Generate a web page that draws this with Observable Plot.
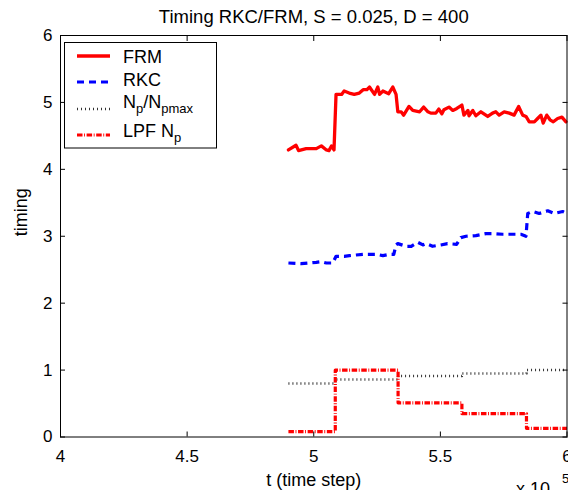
<!DOCTYPE html>
<html><head><meta charset="utf-8">
<script src="https://cdn.jsdelivr.net/npm/d3@7"></script>
<script src="https://cdn.jsdelivr.net/npm/@observablehq/plot@0.6"></script>
<style>
body{margin:0;background:#fff}
#chart{position:relative;width:568px;height:490px;overflow:hidden;background:#fff}
#chart svg{display:block}
</style>
</head><body><div id="chart"></div>
<script>
// ---- data ----
const titleText = "Timing RKC/FRM, S = 0.025, D = 400";
const xLabel = "t (time step)";
const yLabel = "timing";
const xTicks = [400000, 450000, 500000, 550000, 600000];
const yTicks = [0, 1, 2, 3, 4, 5, 6];

const frmT = [490000,493000,494000,497000,501000,503000,505000,506000,507000,508000,508800,511000,512000,514000,516000,518000,519500,521000,522000,524000,525300,526000,527300,529600,531200,532500,533200,534500,535500,537600,539100,541800,543400,545100,546200,548200,549400,550600,551400,553400,554900,556500,558500,559300,560900,561300,562800,564000,566000,568700,570600,571900,573200,575200,577200,579100,580900,582500,583800,585100,587100,588400,589700,590600,592000,593300,594600,596300,598000,599600];
const frmV = [4.29,4.36,4.28,4.31,4.31,4.35,4.29,4.28,4.35,4.29,5.12,5.12,5.17,5.14,5.12,5.14,5.19,5.19,5.23,5.12,5.23,5.12,5.17,5.13,5.23,5.12,4.86,4.86,4.81,4.94,4.88,4.86,4.93,4.86,4.84,4.84,4.90,4.83,4.89,4.93,4.88,4.91,4.96,4.81,4.88,4.80,4.88,4.80,4.86,4.79,4.84,4.86,4.81,4.86,4.84,4.81,4.94,4.81,4.79,4.71,4.71,4.76,4.81,4.69,4.81,4.74,4.71,4.76,4.78,4.71];

const rkcT = [490000,495000,501000,503000,505000,507500,508800,512000,514100,516700,520000,524600,527300,529900,531600,532500,533200,536500,538500,541100,543100,544400,546900,550200,552800,556400,558100,560100,564000,568000,570600,574600,577900,581800,583800,584500,586400,589000,592400,595000,598300,600000];
const rkcV = [2.60,2.59,2.61,2.62,2.60,2.60,2.70,2.70,2.71,2.72,2.73,2.73,2.71,2.73,2.73,2.87,2.89,2.85,2.85,2.91,2.87,2.89,2.85,2.87,2.89,2.88,2.98,3.00,3.01,3.04,3.04,3.03,3.03,3.03,3.00,3.34,3.37,3.34,3.38,3.34,3.37,3.34];

const stepT   = [490000, 508500, 533300, 558500, 584000, 600000];
const npRatio = [0.80, 0.86, 0.91, 0.95, 1.00, 1.00];
const lpfNp   = [0.08, 1.00, 0.51, 0.35, 0.13, 0.13];

// ---- styles ----
const font = "'Liberation Sans', Arial, Helvetica, sans-serif";
const series = [
  {key: "frm", stroke: "#ff0000", width: 3.3, dash: null, cap: "round"},
  {key: "rkc", stroke: "#0000ff", width: 3.2, dash: "7,5", cap: "butt"},
  {key: "np",  stroke: "#333333", width: 2.5, dash: "1,3", cap: "butt"},
  {key: "lpf", stroke: "#ff0000", width: 3.2, dash: "5.5,1.6,0.9,1.6", cap: "butt"}
];
const S = Object.fromEntries(series.map(s => [s.key, s]));

const frm = frmT.map((t, i) => ({t, v: frmV[i]}));
const rkc = rkcT.map((t, i) => ({t, v: rkcV[i]}));
const steps = stepT.map((t, i) => ({t, np: npRatio[i], lpf: lpfNp[i]}));

const W = 568, H = 490;
const fmtX = d => String(d / 1e5);
const fmtY = d => String(d);
const blank = () => "";
const lineOpts = s => ({stroke: s.stroke, strokeWidth: s.width, strokeDasharray: s.dash, strokeLinecap: s.cap, strokeLinejoin: "round"});

const plot = Plot.plot({
  width: W, height: H,
  marginLeft: 60, marginRight: 1.5, marginTop: 35, marginBottom: 53.5,
  style: {fontFamily: font, background: "#fff", color: "#000", overflow: "visible"},
  x: {domain: [400000, 600000], label: null},
  y: {domain: [0, 6], label: null},
  marks: [
    Plot.line(frm, {x: "t", y: "v", ...lineOpts(S.frm)}),
    Plot.line(rkc, {x: "t", y: "v", ...lineOpts(S.rkc)}),
    Plot.line(steps, {x: "t", y: "np", curve: "step-after", ...lineOpts(S.np)}),
    Plot.line(steps, {x: "t", y: "lpf", curve: "step-after", ...lineOpts(S.lpf)}),
    Plot.frame({stroke: "#000", strokeWidth: 1}),
    // inward ticks (shifted into the frame)
    Plot.axisX({anchor: "bottom", ticks: xTicks, tickSize: 5, dy: -5, tickFormat: blank, label: null}),
    Plot.axisX({anchor: "top", ticks: xTicks, tickSize: 5, dy: 5, tickFormat: blank, label: null}),
    Plot.axisY({anchor: "left", ticks: yTicks, tickSize: 5, dx: 5, tickFormat: blank, label: null}),
    Plot.axisY({anchor: "right", ticks: yTicks, tickSize: 5, dx: -5, tickFormat: blank, label: null}),
    // tick labels
    Plot.axisX({anchor: "bottom", ticks: xTicks, tickSize: 0, tickPadding: 13, tickFormat: fmtX, fontSize: 17, label: null}),
    Plot.axisY({anchor: "left", ticks: yTicks, tickSize: 0, tickPadding: 8, tickFormat: fmtY, fontSize: 17, label: null}),
    Plot.text([titleText], {frameAnchor: "top", dy: -18, lineAnchor: "middle", fontSize: 18.5, fill: "#000"}),
    Plot.text([xLabel], {frameAnchor: "bottom", dy: 43, lineAnchor: "middle", fontSize: 18, fill: "#000"}),
    Plot.text([yLabel], {frameAnchor: "left", dx: -39, rotate: -90, lineAnchor: "middle", fontSize: 18, fill: "#000"}),
    Plot.text(["x 10"], {frameAnchor: "bottom-right", dx: -51, dy: 52, textAnchor: "start", lineAnchor: "middle", fontSize: 18, fill: "#000"}),
    Plot.text(["5"], {frameAnchor: "bottom-right", dx: -5, dy: 42, textAnchor: "start", lineAnchor: "middle", fontSize: 13, fill: "#000"})
  ]
});
document.getElementById("chart").appendChild(plot);

// ---- legend overlay ----
const leg = d3.select("#chart").append("svg")
  .attr("width", W).attr("height", H)
  .style("position", "absolute").style("left", 0).style("top", 0)
  .style("pointer-events", "none")
  .attr("font-family", font);
leg.append("rect").attr("x", 64.5).attr("y", 42.5).attr("width", 152).attr("height", 105.5)
  .attr("fill", "#fff").attr("stroke", "#000").attr("stroke-width", 1);
const rows = [
  {s: S.frm, y: 56, parts: [["FRM", 0]]},
  {s: S.rkc, y: 82, parts: [["RKC", 0]]},
  {s: S.np,  y: 109, parts: [["N", 0], ["p", 1], ["/N", 0], ["pmax", 1]]},
  {s: S.lpf, y: 135, parts: [["LPF N", 0], ["p", 1]]}
];
const textBase = [62.5, 86, 108, 137];
rows.forEach((r, i) => {
  leg.append("line").attr("x1", 77).attr("x2", 110).attr("y1", r.y).attr("y2", r.y)
    .attr("stroke", r.s.stroke).attr("stroke-width", r.s.width)
    .attr("stroke-dasharray", r.s.dash).attr("stroke-linecap", "butt");
  const t = leg.append("text").attr("x", 123).attr("y", textBase[i]).attr("font-size", 18).attr("fill", "#000");
  let sub = 0;
  r.parts.forEach(([txt, isSub]) => {
    const ts = t.append("tspan").text(txt).attr("font-size", isSub ? 13 : 18);
    if (isSub !== sub) { ts.attr("dy", isSub ? 5 : -5); sub = isSub; }
  });
});
</script>
</body></html>
